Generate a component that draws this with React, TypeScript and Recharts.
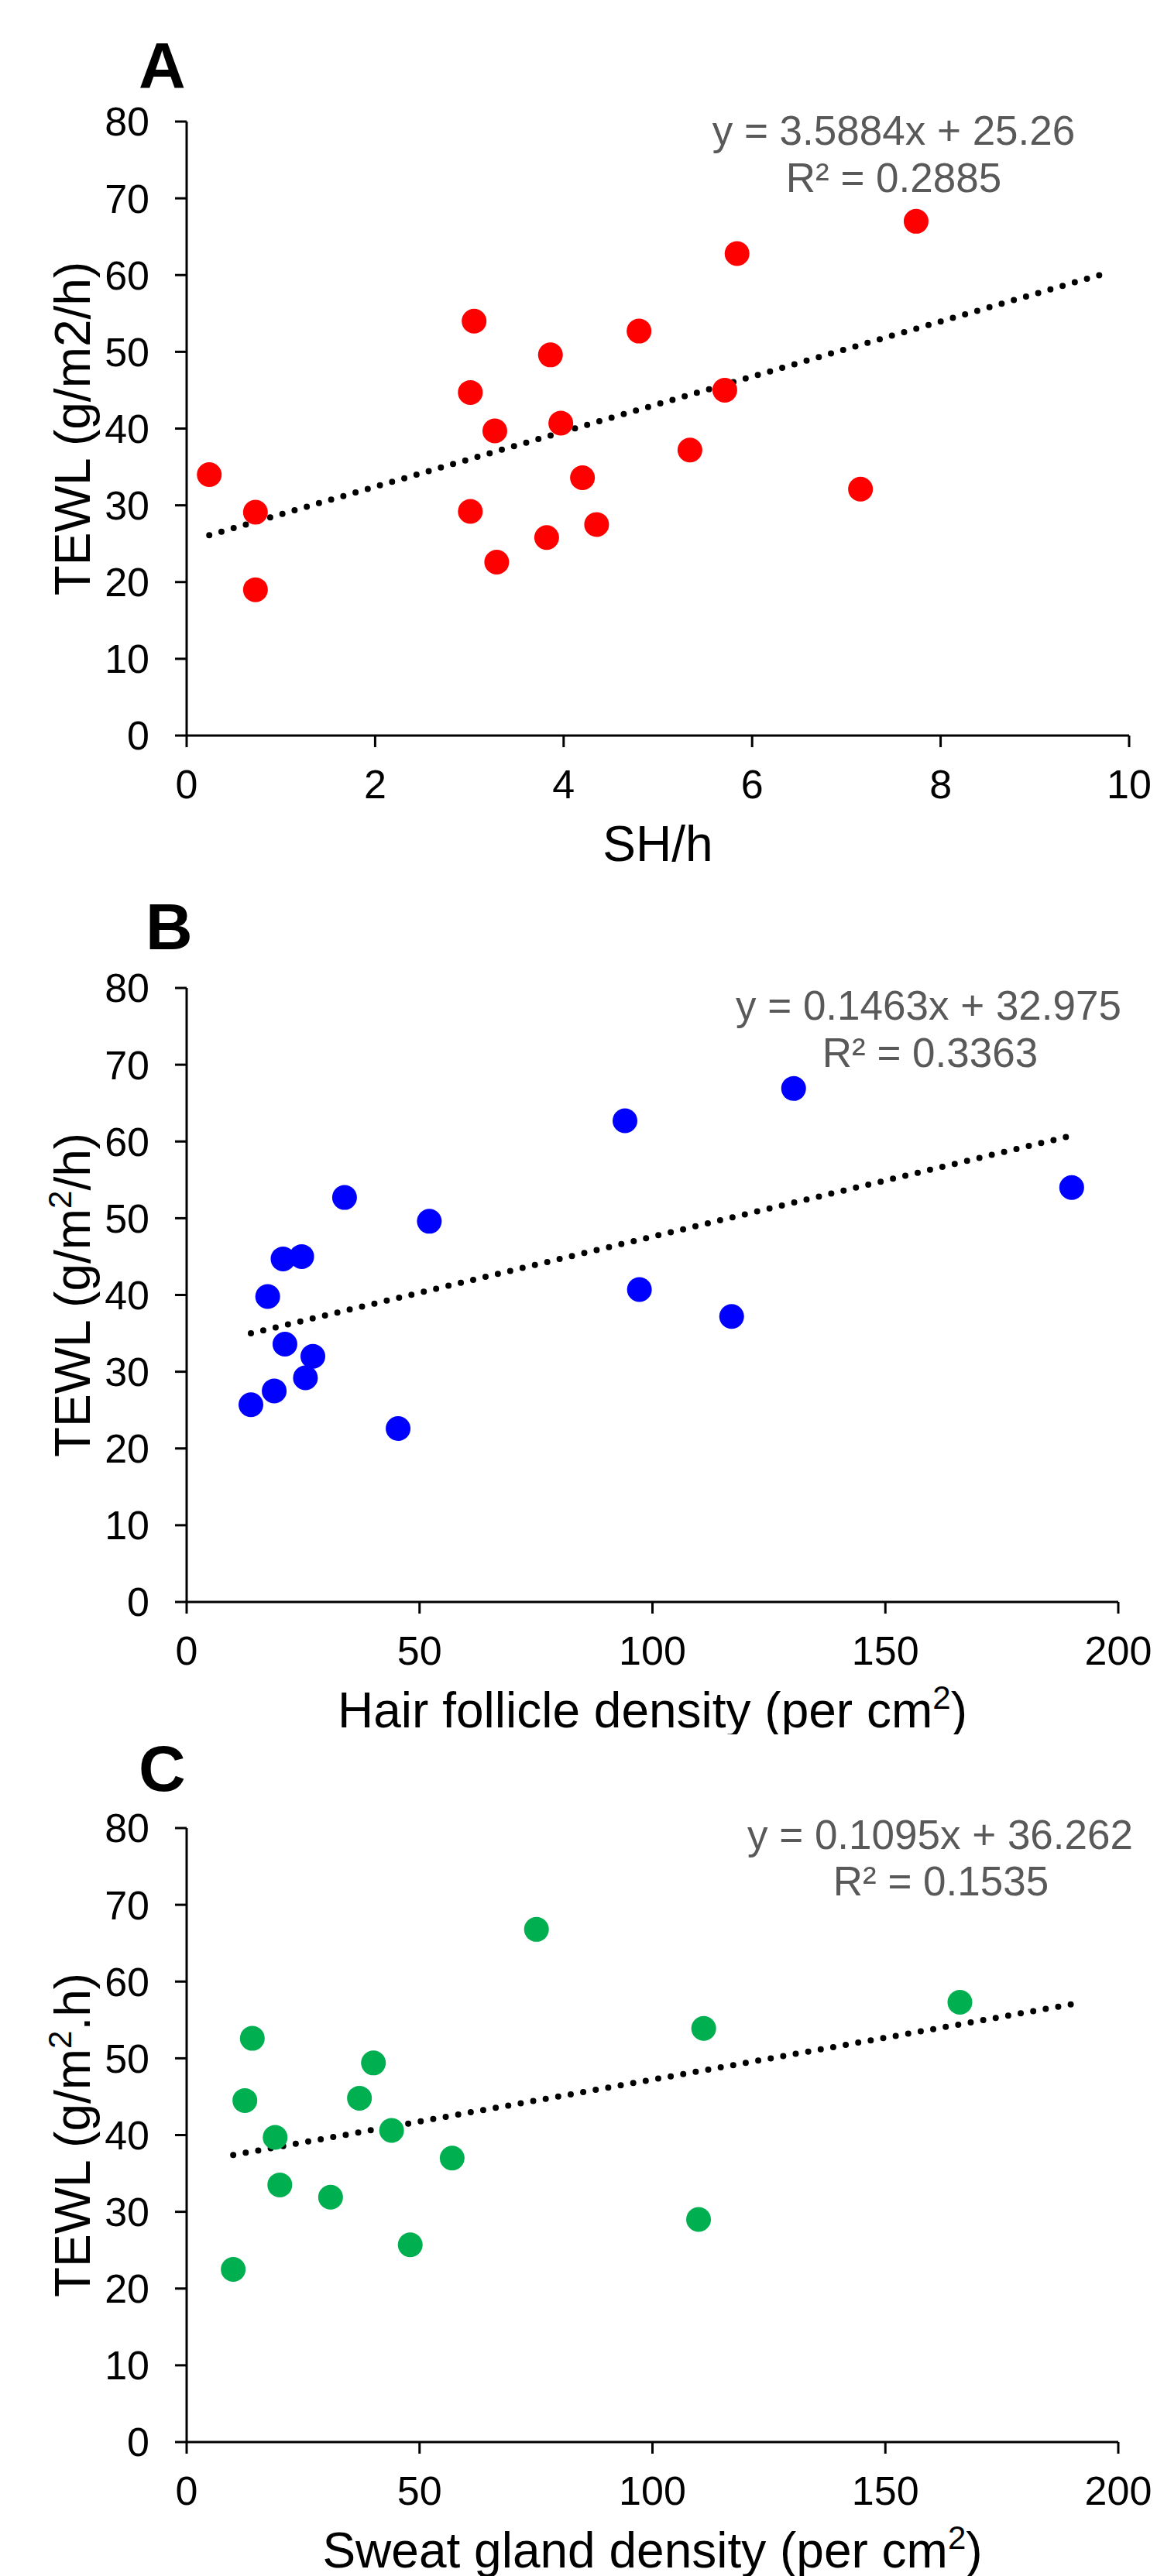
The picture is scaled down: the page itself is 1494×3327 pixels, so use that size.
import React from "react";
import { ScatterChart, Scatter, XAxis, YAxis, ReferenceLine } from "recharts";

const font = '"Liberation Sans", Arial, sans-serif';

// Panel A: TEWL vs SH/h
const shX = [0.24, 0.73, 0.73, 3.01, 3.05, 3.01, 3.27, 3.29, 3.86, 3.82, 3.97, 4.2, 4.35, 4.8, 5.34, 5.71, 5.84, 7.15, 7.74];
const shY = [34.0, 29.1, 19.0, 44.7, 54.0, 29.2, 39.7, 22.6, 49.6, 25.8, 40.7, 33.6, 27.5, 52.7, 37.2, 45.0, 62.8, 32.1, 67.0];
const trendA = [{ x: 0.24, y: 26.1 }, { x: 9.77, y: 60.3 }];

// Panel B: TEWL vs hair follicle density
const hairX = [13.8, 18.8, 17.4, 20.7, 24.7, 21.1, 27.1, 25.5, 33.9, 45.4, 52.1, 94.1, 97.2, 117.0, 130.3, 190.0];
const hairY = [25.7, 27.5, 39.8, 44.7, 45.0, 33.6, 32.0, 29.2, 52.7, 22.6, 49.6, 62.7, 40.7, 37.2, 66.9, 54.0];
const trendB = [{ x: 13.8, y: 35.0 }, { x: 190.3, y: 60.8 }];

// Panel C: TEWL vs sweat gland density
const sweatX = [10.0, 12.5, 14.1, 19.0, 20.0, 30.9, 37.1, 40.1, 44.0, 48.0, 57.0, 75.1, 109.9, 111.0, 166.0];
const sweatY = [22.5, 44.5, 52.6, 39.7, 33.5, 31.9, 44.8, 49.4, 40.6, 25.7, 37.0, 66.8, 29.0, 53.9, 57.3];
const trendC = [{ x: 10.0, y: 37.4 }, { x: 191.4, y: 57.2 }];

const yTicks = [0, 10, 20, 30, 40, 50, 60, 70, 80];
const shTicks = [0, 2, 4, 6, 8, 10];
const densityTicks = [0, 50, 100, 150, 200];

const zip = (xs: number[], ys: number[]) => xs.map((x, i) => ({ x, y: ys[i] }));

const tickStyle = { fill: "#000", fontSize: 52, fontFamily: font };
const axisStroke = { stroke: "#000", strokeWidth: 3 };

// text with a raised "2", then the rest back on the baseline
const withSup = (before: string, after: string) => (
  <>
    {before}
    <tspan dy={-24} fontSize={42}>2</tspan>
    <tspan dy={24}>{after}</tspan>
  </>
);

type PanelProps = {
  top: number;
  height: number;
  marginTop: number;
  right: number;
  xDomain: [number, number];
  xTicks: number[];
  data: { x: number; y: number }[];
  color: string;
  trend: { x: number; y: number }[];
  xTitle: React.ReactNode;
  yTitle: React.ReactNode;
};

const PLOT_H = 793;

function Panel(p: PanelProps) {
  return (
    <div style={{ position: "absolute", left: 0, top: p.top }}>
      <ScatterChart width={1494} height={p.height} margin={{ top: p.marginTop, right: p.right, bottom: 0, left: 0 }}>
        <XAxis
          type="number"
          dataKey="x"
          domain={p.xDomain}
          ticks={p.xTicks}
          height={p.height - p.marginTop - PLOT_H}
          tick={tickStyle}
          tickSize={15}
          tickMargin={29}
          axisLine={axisStroke}
          tickLine={axisStroke}
          label={(lp: any) => {
            const vb = lp.viewBox;
            return (
              <text x={vb.x + vb.width / 2} y={vb.y + 162} textAnchor="middle" fontSize={64} fontFamily={font} fill="#000">
                {p.xTitle}
              </text>
            );
          }}
        />
        <YAxis
          type="number"
          dataKey="y"
          domain={[0, 80]}
          ticks={yTicks}
          width={241}
          tick={tickStyle}
          tickSize={15}
          tickMargin={33}
          axisLine={axisStroke}
          tickLine={axisStroke}
          label={(lp: any) => {
            const vb = lp.viewBox;
            const cx = vb.x + 116;
            const cy = vb.y + vb.height / 2;
            return (
              <text x={cx} y={cy} transform={`rotate(-90 ${cx} ${cy})`} textAnchor="middle" fontSize={64} fontFamily={font} fill="#000">
                {p.yTitle}
              </text>
            );
          }}
        />
        <Scatter
          data={p.data}
          isAnimationActive={false}
          shape={(s: any) => <circle cx={s.cx} cy={s.cy} r={16} fill={p.color} />}
        />
        <ReferenceLine
          segment={p.trend}
          stroke="#000"
          strokeWidth={8}
          strokeDasharray="0 16.4"
          strokeLinecap="round"
        />
      </ScatterChart>
    </div>
  );
}

export default function App() {
  const eq = { fontSize: 53, fontFamily: font, fill: "#595959", textAnchor: "middle" as const };
  const letter = { fontSize: 84, fontFamily: font, fontWeight: 700, fill: "#000" };
  return (
    <div style={{ position: "absolute", left: 0, top: 0, width: 1494, height: 3327, background: "#fff", overflow: "hidden" }}>
      <Panel
        top={0}
        height={1130}
        marginTop={157}
        right={36}
        xDomain={[0, 10]}
        xTicks={shTicks}
        data={zip(shX, shY)}
        color="#FF0000"
        trend={trendA}
        xTitle="SH/h"
        yTitle="TEWL (g/m2/h)"
      />
      <Panel
        top={1130}
        height={1110}
        marginTop={146}
        right={50}
        xDomain={[0, 200]}
        xTicks={densityTicks}
        data={zip(hairX, hairY)}
        color="#0000FF"
        trend={trendB}
        xTitle={withSup("Hair follicle density (per cm", ")")}
        yTitle={withSup("TEWL (g/m", "/h)")}
      />
      <Panel
        top={2240}
        height={1087}
        marginTop={121}
        right={50}
        xDomain={[0, 200]}
        xTicks={densityTicks}
        data={zip(sweatX, sweatY)}
        color="#00B050"
        trend={trendC}
        xTitle={withSup("Sweat gland density (per cm", ")")}
        yTitle={withSup("TEWL (g/m", ".h)")}
      />
      <svg width={1494} height={3327} style={{ position: "absolute", left: 0, top: 0, pointerEvents: "none" }}>
        <text x={179} y={114} {...letter}>A</text>
        <text x={188} y={1226} {...letter}>B</text>
        <text x={179} y={2313} {...letter}>C</text>

        <text x={1154} y={187} {...eq}>y = 3.5884x + 25.26</text>
        <text x={1154} y={248} {...eq}>R² = 0.2885</text>
        <text x={1199} y={1317} {...eq}>y = 0.1463x + 32.975</text>
        <text x={1201} y={1378} {...eq}>R² = 0.3363</text>
        <text x={1214} y={2388} {...eq}>y = 0.1095x + 36.262</text>
        <text x={1215} y={2448} {...eq}>R² = 0.1535</text>
      </svg>
    </div>
  );
}
